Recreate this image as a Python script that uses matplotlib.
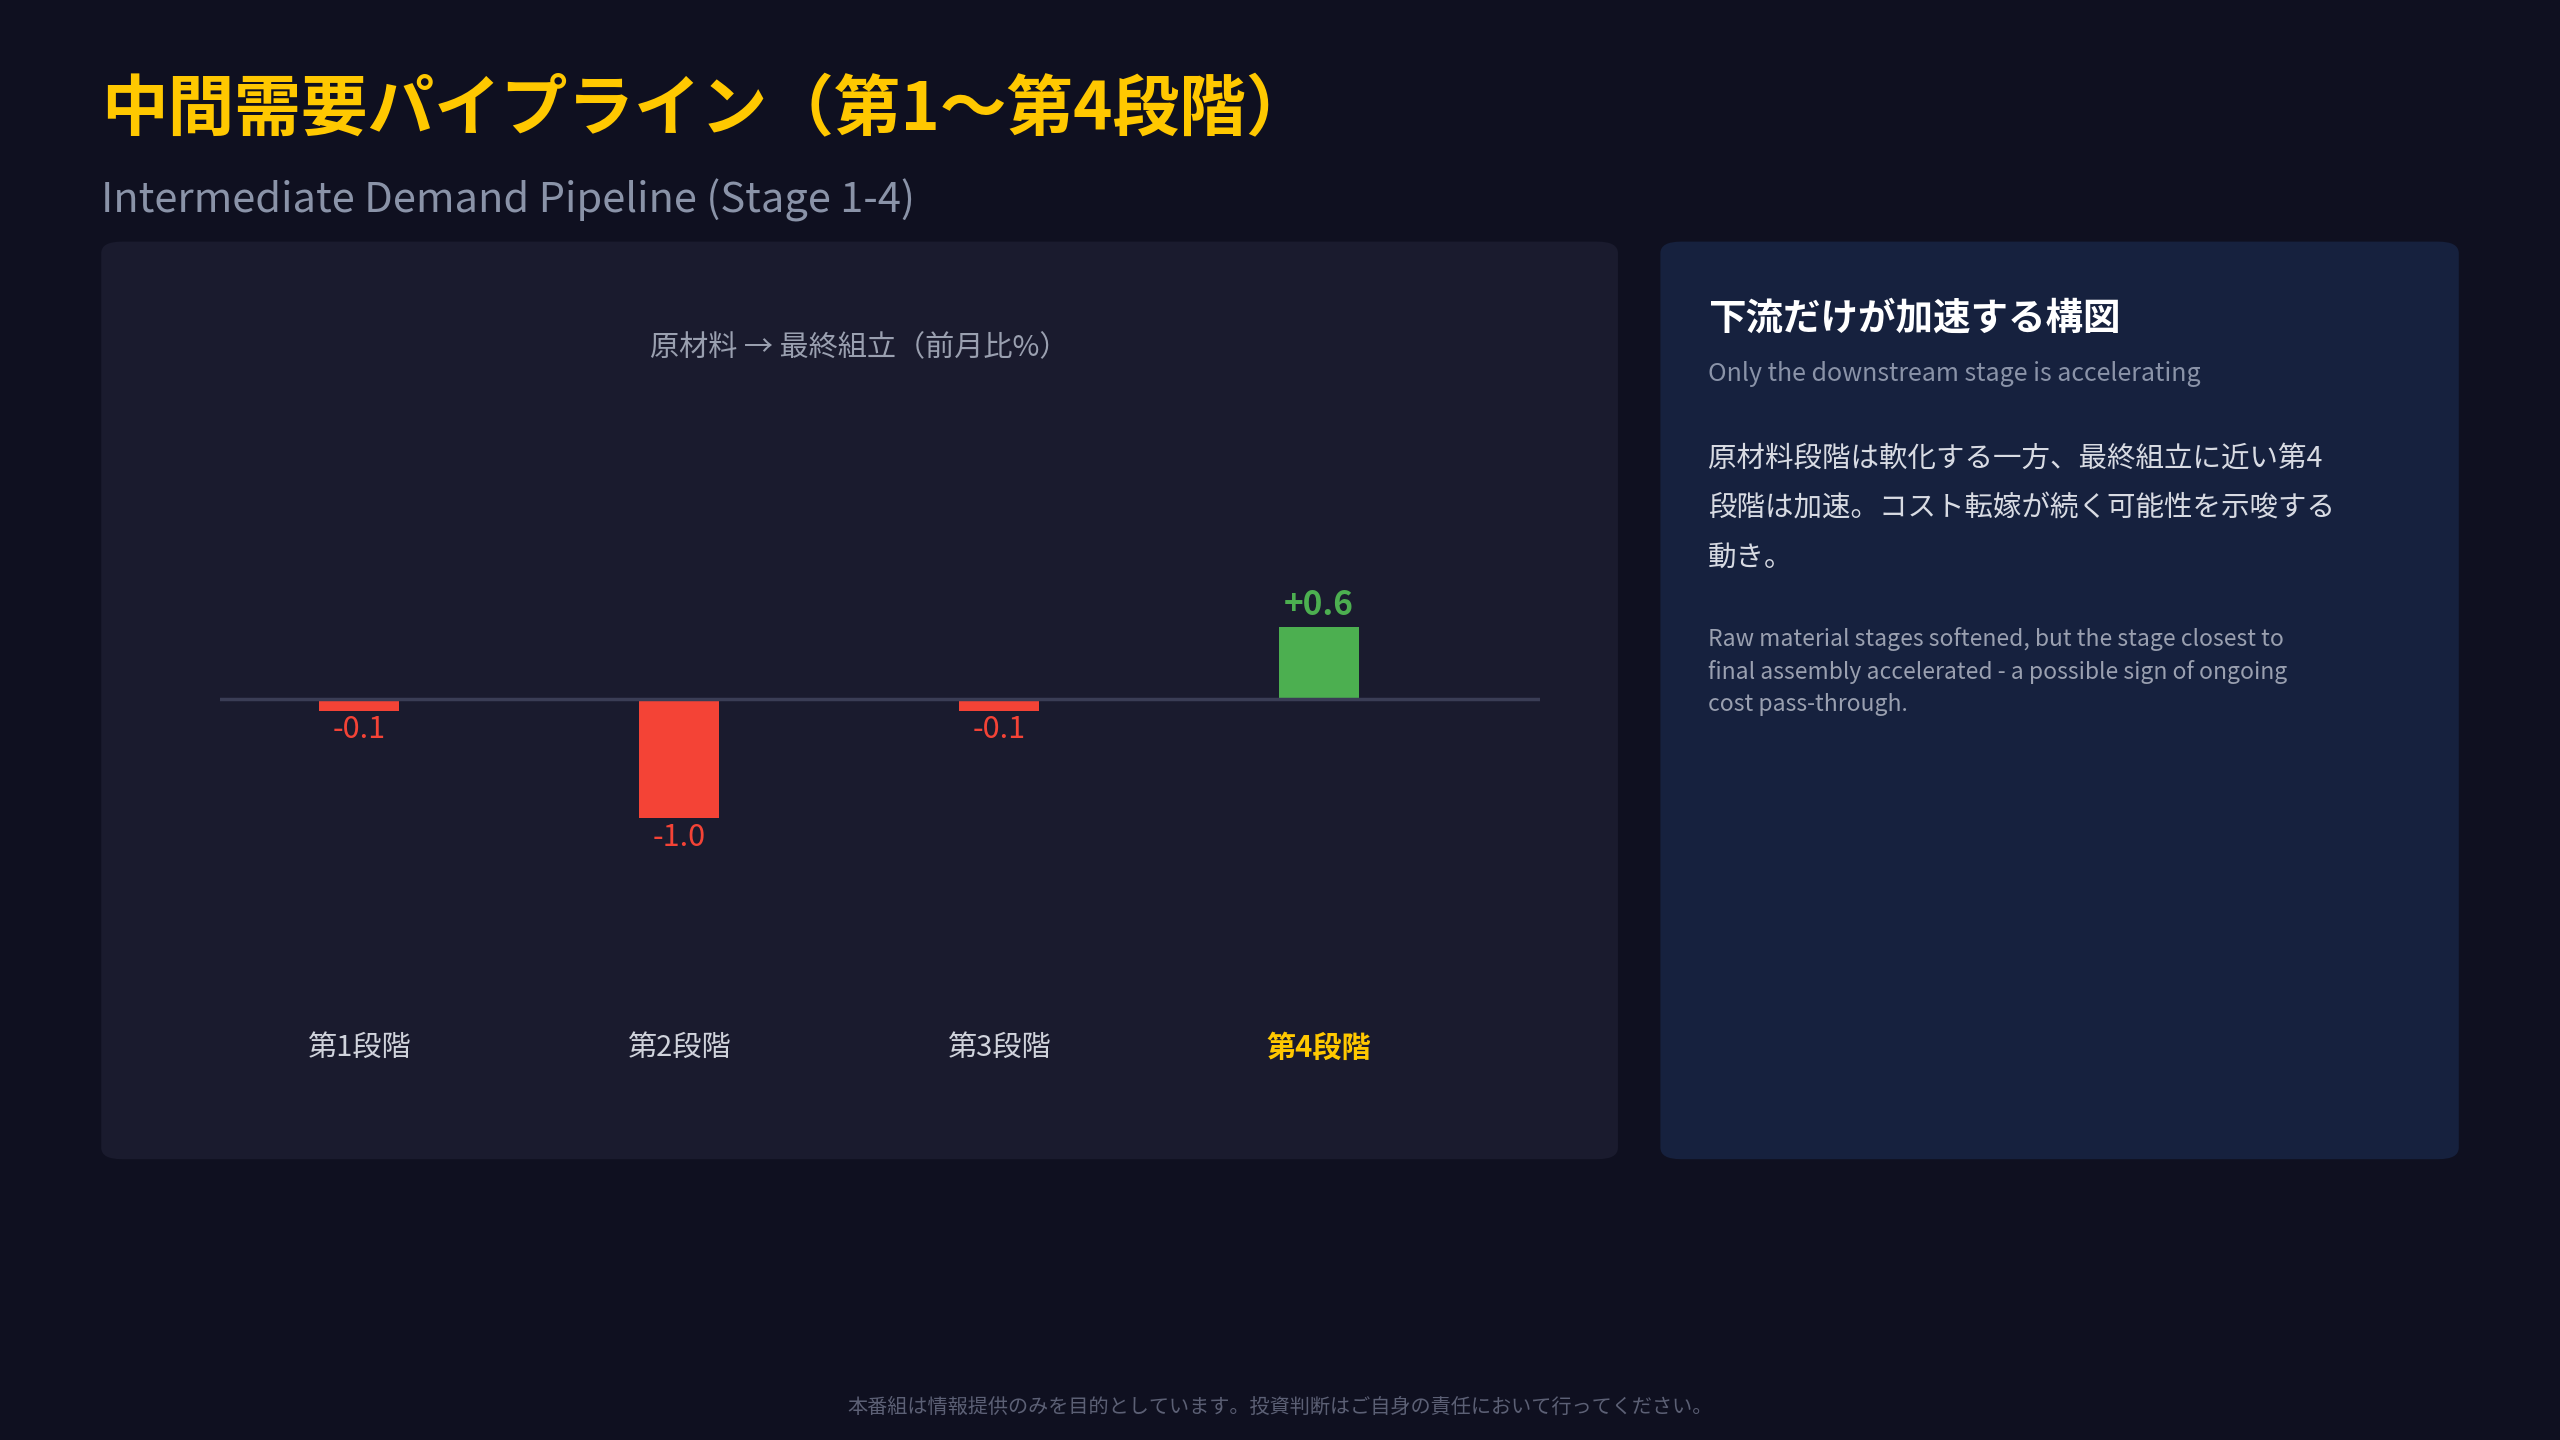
import matplotlib.pyplot as plt
from matplotlib.patches import FancyBboxPatch

plt.rcParams['font.family'] = ['Noto Sans CJK JP', 'DejaVu Sans']

stages = ['第1段階', '第2段階', '第3段階', '第4段階']
values = [-0.1, -1.0, -0.1, 0.6]
labels = ['-0.1', '-1.0', '-0.1', '+0.6']

W, H = 1568, 882
def fx(x): return x / W
def fy(y): return 1 - y / H

fig = plt.figure(figsize=(25.6, 14.4), dpi=100)
fig.patch.set_facecolor('#0f1020')

# panels
for x0, x1, col in [(62, 991, '#1a1b2e'), (1017, 1506, '#16213e')]:
    fig.patches.append(FancyBboxPatch((fx(x0), fy(710)), fx(x1 - x0), (710 - 148) / H,
                                      boxstyle='round,pad=0,rounding_size=0.008',
                                      transform=fig.transFigure, facecolor=col,
                                      edgecolor='none', zorder=0))

fig.text(fx(62), fy(68), '中間需要パイプライン（第1〜第4段階）', color='#FFC800',
         fontsize=48, fontweight='bold', va='center')
fig.text(fx(62), fy(123), 'Intermediate Demand Pipeline (Stage 1-4)', color='#8a93a8',
         fontsize=30, va='center')
fig.text(fx(526), fy(213), '原材料 → 最終組立（前月比%）', color='#9aa0b0',
         fontsize=21, ha='center', va='center')

# chart axes: x 135-943, y 250-600 (image px)
ax = fig.add_axes([fx(135), fy(600), fx(943 - 135), (600 - 250) / H])
ax.set_zorder(2)
ax.set_facecolor('none')
scale = 73.0
ax.set_xlim(-85 / 196, (943 - 220) / 196)
ax.set_ylim(-(600 - 428) / scale, (428 - 250) / scale)
colors = ['#f44336' if v < 0 else '#4caf50' for v in values]
ax.bar(range(len(values)), values, width=0.25, color=colors, zorder=2)
ax.axhline(0, color='#3a3d55', lw=2.5, zorder=3)
for i, (v, lab) in enumerate(zip(values, labels)):
    if v < 0:
        ax.text(i, v - 0.03, lab, color='#f44336', fontsize=22, ha='center', va='top')
    else:
        ax.text(i, v + 0.04, lab, color='#4caf50', fontsize=24, fontweight='bold',
                ha='center', va='bottom')
ax.axis('off')

for i, s in enumerate(stages):
    last = i == len(stages) - 1
    fig.text(fx(220 + 196 * i), fy(642), s, color='#FFC800' if last else '#d0d3dc',
             fontsize=21, fontweight='bold' if last else 'normal', ha='center', va='center')

# right panel text
fig.text(fx(1046), fy(195), '下流だけが加速する構図', color='white', fontsize=27,
         fontweight='bold', va='center')
fig.text(fx(1046), fy(229), 'Only the downstream stage is accelerating', color='#8a93a8',
         fontsize=18, va='center')
fig.text(fx(1046), fy(272), '原材料段階は軟化する一方、最終組立に近い第4\n段階は加速。コスト転嫁が続く可能性を示唆する\n動き。',
         color='#d8dbe3', fontsize=20.5, va='top', linespacing=1.85)
fig.text(fx(1046), fy(384), 'Raw material stages softened, but the stage closest to\nfinal assembly accelerated - a possible sign of ongoing\ncost pass-through.',
         color='#9aa0b0', fontsize=16.5, va='top', linespacing=1.5)

fig.text(0.5, fy(862), '本番組は情報提供のみを目的としています。投資判断はご自身の責任において行ってください。',
         color='#5c6075', fontsize=14.5, ha='center', va='center')

fig.savefig('out.png', dpi=100, facecolor=fig.get_facecolor())
